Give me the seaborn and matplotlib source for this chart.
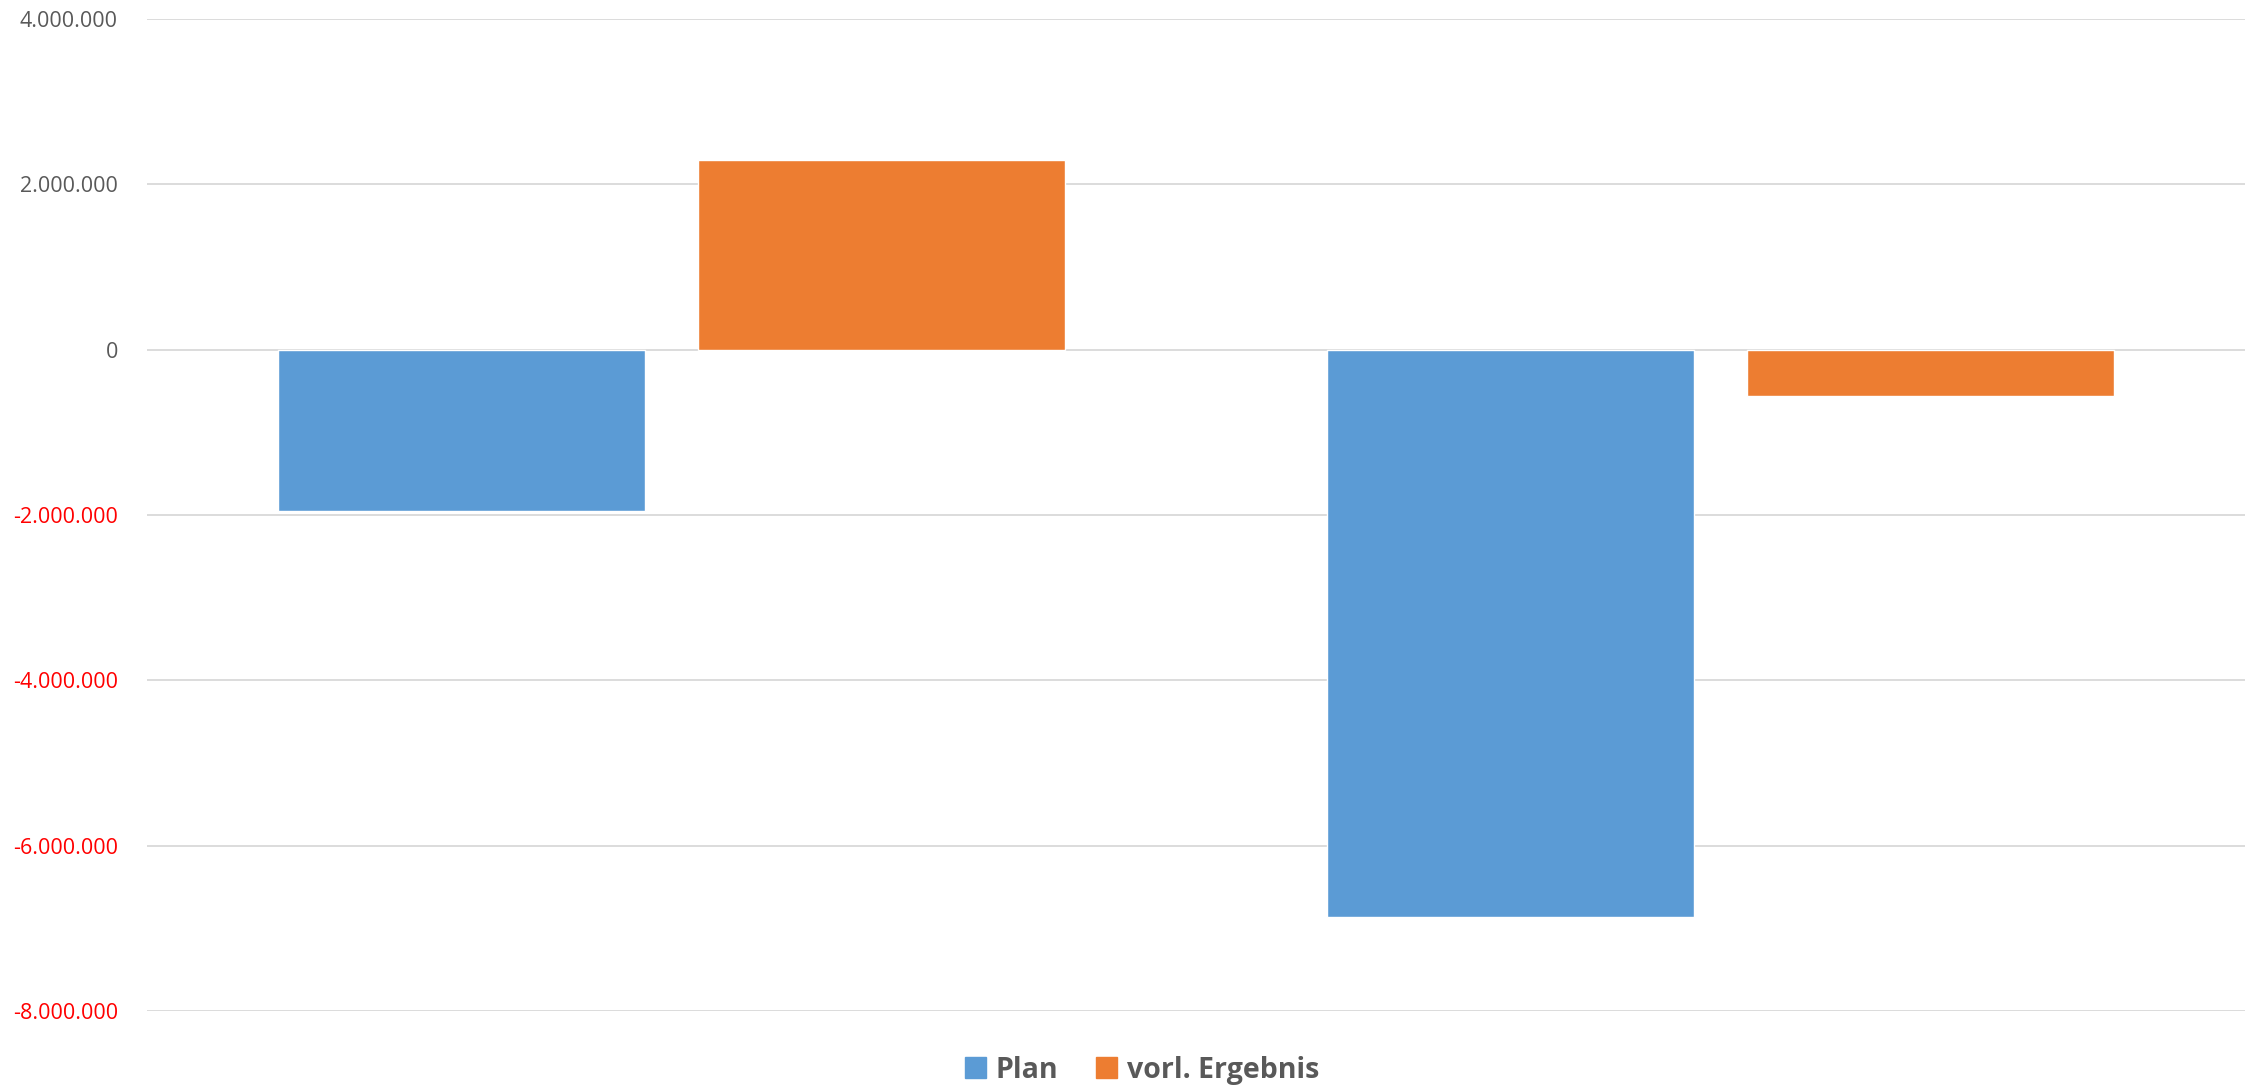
import pandas as pd
import numpy as np
import matplotlib.pyplot as plt
import seaborn as sns
from matplotlib.ticker import FuncFormatter, MultipleLocator

# Daten
kategorien = ["Bereich 1", "Bereich 2"]
plan = [-1950000, -6860000]
vorl_ergebnis = [2300000, -560000]
serien = ["Plan", "vorl. Ergebnis"]
farben = ["#5B9BD5", "#ED7D31"]
y_ticks = [-8000000, -6000000, -4000000, -2000000, 0, 2000000, 4000000]

df = pd.DataFrame({
    "Kategorie": kategorien * 2,
    "Serie": [serien[0]] * len(plan) + [serien[1]] * len(vorl_ergebnis),
    "Wert": plan + vorl_ergebnis,
})

sns.set_theme(style="white")
plt.rcParams['font.family'] = ['Open Sans', 'DejaVu Sans']

fig = plt.figure(figsize=(22.59, 10.92), dpi=100)
ax = fig.add_axes([0.0651, 0.0742, 0.9287, 0.9084])

sns.barplot(data=df, x="Kategorie", y="Wert", hue="Serie", palette=farben,
            width=0.8, gap=0.125, ax=ax, legend=False, saturation=1)

ax.set_ylim(y_ticks[0], y_ticks[-1])
ax.set_xlim(-0.5, 1.5)
ax.set_yticks(y_ticks)
ax.yaxis.set_major_formatter(FuncFormatter(lambda v, p: f"{v:,.0f}".replace(",", ".")))
ax.grid(axis="y", color="#D9D9D9", linewidth=1.3)
ax.set_axisbelow(True)
ax.set_xlabel("")
ax.set_ylabel("")
ax.set_xticks([])
for s in ax.spines.values():
    s.set_visible(False)
ax.tick_params(axis="y", length=0, pad=21, labelsize=15.5)

# Negative Werte rot
for lbl, t in zip(ax.get_yticklabels(), y_ticks):
    lbl.set_color("#FF0000" if t < 0 else "#595959")

# Legende unten
handles = [plt.Rectangle((0, 0), 1, 1, color=c) for c in farben]
fig.legend(handles, serien, loc="center", bbox_to_anchor=(0.5055, 0.0201),
           ncol=2, frameon=False, handlelength=0.75, handleheight=0.75,
           handletextpad=0.35, columnspacing=1.3,
           prop={"weight": "bold", "size": 20.5})
for t in fig.legends[0].get_texts():
    t.set_color("#595959")

fig.savefig("out.png", dpi=100)
